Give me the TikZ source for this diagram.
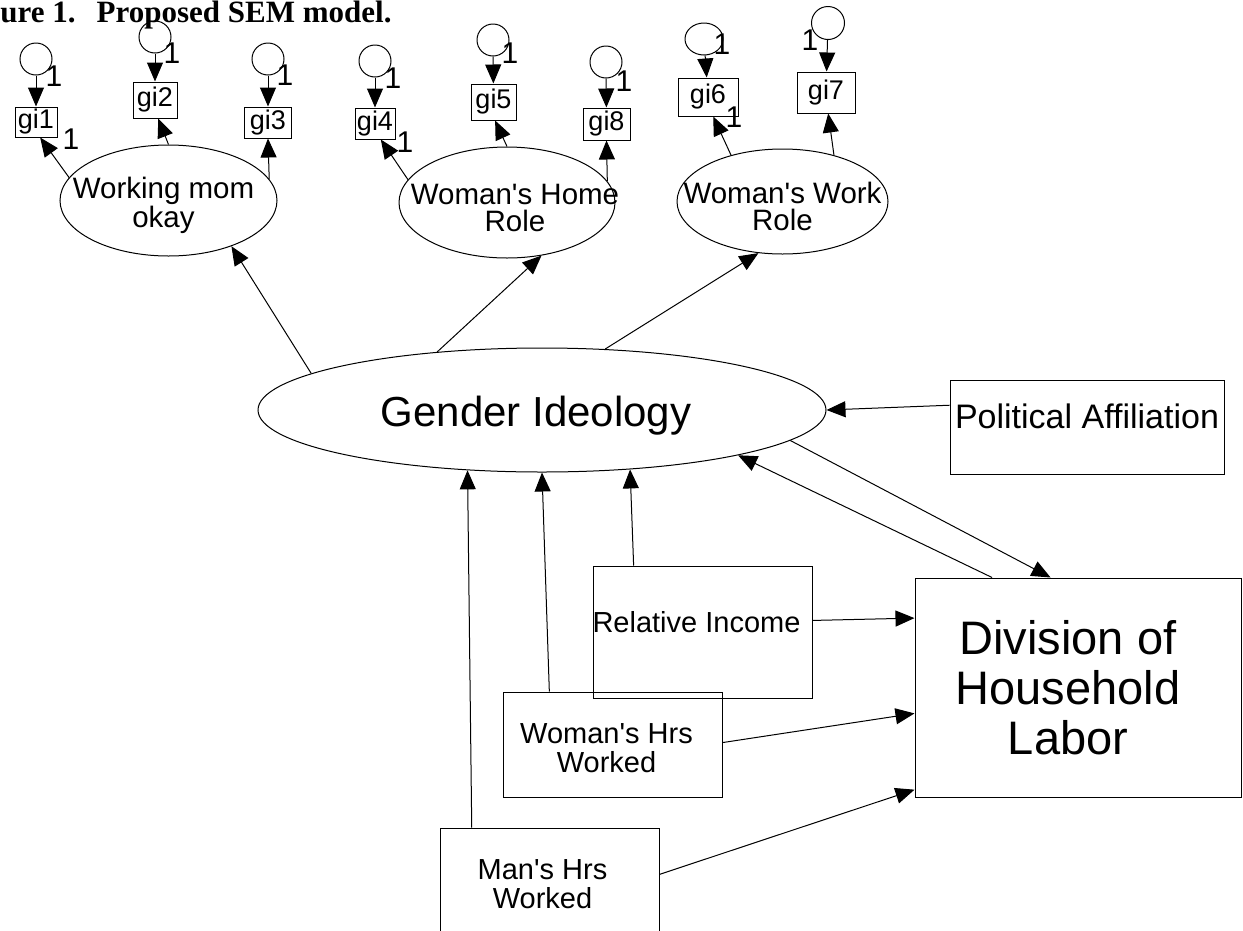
\documentclass[tikz,border=0pt]{standalone}
\usepackage{fontspec}
\setmainfont{Liberation Sans}
\newfontfamily\capfont{Liberation Serif}
\usepackage{tikz}
\usetikzlibrary{arrows.meta, shapes.geometric}
\newcommand\apo{\textquotesingle{}}

\begin{document}
\begin{tikzpicture}[
      x=1pt, y=-1pt,
      line width=1pt,
      every node/.style={inner sep=0pt, align=center},
      latent/.style={ellipse, draw},
      ltext/.style={font=\fontsize{29.5}{27}\selectfont, yshift=-5pt},
      obs/.style={rectangle, draw},
      otext/.style={font=\fontsize{29}{29}\selectfont},
      indic/.style={rectangle, draw, font=\fontsize{27}{27}\selectfont},
      err/.style={ellipse, draw, minimum width=32pt, minimum height=32pt},
      one/.style={font=\fontsize{30}{30}\selectfont},
      eff/.style={-{Triangle[length=19pt, width=16pt]}}
    ]
      \useasboundingbox (0,0) rectangle (1243,930);
      \clip (0,0) rectangle (1243,930);

      \node[anchor=base west, font={\capfont\bfseries\fontsize{31}{31}\selectfont}] (title) at (0,22)
        {ure 1.\hspace{21pt}Proposed SEM model.};

      % error terms
      \node[err] (e1) at (36,59) {};
      \node[err] (e2) at (155,37) {};
      \node[err] (e3) at (268,59) {};
      \node[err] (e4) at (375,61) {};
      \node[err] (e5) at (493,40) {};
      \node[err] (e8) at (606,62) {};
      \node[err, minimum width=38pt] (e6) at (704,39) {};
      \node[err, minimum width=33pt, minimum height=33pt] (e7) at (828,23) {};

      % indicators
      \node[indic, minimum width=42pt, minimum height=30pt] (gi1) at (36,122) {gi1};
      \node[indic, minimum width=44pt, minimum height=36pt] (gi2) at (155,100) {gi2};
      \node[indic, minimum width=47pt, minimum height=31pt] (gi3) at (268,122.5) {gi3};
      \node[indic, minimum width=40pt, minimum height=31pt] (gi4) at (375,123.5) {gi4};
      \node[indic, minimum width=45pt, minimum height=36pt] (gi5) at (493.5,102) {gi5};
      \node[indic, minimum width=47pt, minimum height=32pt] (gi8) at (606.5,124) {gi8};
      \node[indic, minimum width=60pt, minimum height=38pt] (gi6) at (708,97) {gi6};
      \node[indic, minimum width=58pt, minimum height=41pt] (gi7) at (826,92.5) {gi7};

      % latent variables
      \node[latent, minimum width=217pt, minimum height=111pt,
        label={[ltext, xshift=-5pt]center:{Working mom\\okay}}] (wm) at (168.5,200.5) {};
      \node[latent, minimum width=216pt, minimum height=111pt,
        label={[ltext, xshift=8pt]center:{Woman\apo s Home\\Role}}] (home) at (507,202.5) {};
      \node[latent, minimum width=211pt, minimum height=105pt,
        label={[ltext]center:{Woman\apo s Work\\Role}}] (work) at (782.5,201.5) {};
      \node[latent, minimum width=568pt, minimum height=124pt,
        label={[font=\fontsize{42}{42}\selectfont, xshift=-6pt, yshift=-6pt]center:Gender Ideology}] (gend) at (542,410) {};

      % observed variables
      \node[obs, minimum width=274pt, minimum height=94pt,
        label={[font=\fontsize{34}{34}\selectfont, yshift=11pt]center:Political Affiliation}] (pol) at (1087,427) {};
      \node[obs, minimum width=326pt, minimum height=219pt,
        label={[font=\fontsize{47}{50}\selectfont, xshift=-10pt]center:{Division of\\Household\\Labor}}] (div) at (1078,687.5) {};
      \node[obs, minimum width=219pt, minimum height=132pt,
        label={[otext, xshift=-6pt, yshift=10pt]center:Relative Income}] (rel) at (702.5,632) {};
      \node[obs, minimum width=219pt, minimum height=105pt,
        label={[otext, xshift=-6pt, yshift=-4pt]center:{Woman\apo s Hrs\\Worked}}] (whrs) at (612.5,744.5) {};
      \node[obs, minimum width=219pt, minimum height=112pt,
        label={[otext, xshift=-7pt]center:{Man\apo s Hrs\\Worked}}] (mhrs) at (549.5,884) {};

      % fixed loadings
      \node[one] (o1) at (54,76) {1};
      \node[one] (o1b) at (71,139) {1};
      \node[one] (o2) at (172,53) {1};
      \node[one] (o3) at (285,75) {1};
      \node[one] (o4) at (393,78) {1};
      \node[one] (o4b) at (405,142) {1};
      \node[one] (o5) at (510,53) {1};
      \node[one] (o8) at (624,81) {1};
      \node[one] (o6) at (722,44) {1};
      \node[one] (o6b) at (734,117) {1};
      \node[one] (o7) at (810,40) {1};

      % measurement part
      \foreach \i in {1,...,8}
        \draw[eff] (e\i) -- (gi\i);
      \draw[eff] (wm.167.4) -- (gi1.-75);
      \draw[eff] (wm.90) -- (gi2.-80);
      \draw[eff] (wm.12.7) -- (gi3.south);
      \draw[eff] (home.167.3) -- (gi4.-70);
      \draw[eff] (home.90) -- (gi5.-85);
      \draw[eff] (home.12.7) -- (gi8.south);
      \draw[eff] (work.138.5) -- (gi6.-75);
      \draw[eff] (work.42.6) -- (gi7.-84);

      % structural part
      \draw[eff] (gend.171.2) -- (wm.-36.4);
      \draw[eff] (gend.151.5) -- (home.-57.3);
      \draw[eff] (gend.44.5) -- (work.-115.9);
      \draw[eff] (pol.171.7) -- (gend.east);
      \draw[eff] (gend.-7.7) -- (div.104.3);
      \draw[eff] (div.128.8) -- (gend.-13);
      \draw[eff] (rel.136.9) -- (gend.-34.8);
      \draw[eff] (rel.6.8) -- (div.157.2);
      \draw[eff] (whrs.140.9) -- (gend.south);
      \draw[eff] (mhrs.144.8) -- (gend.219.8);
      \draw[eff] (whrs.1.8) -- (div.189.9);
      \draw[eff] (mhrs.5.7) -- (div.212.9);
    \end{tikzpicture}
\end{document}
